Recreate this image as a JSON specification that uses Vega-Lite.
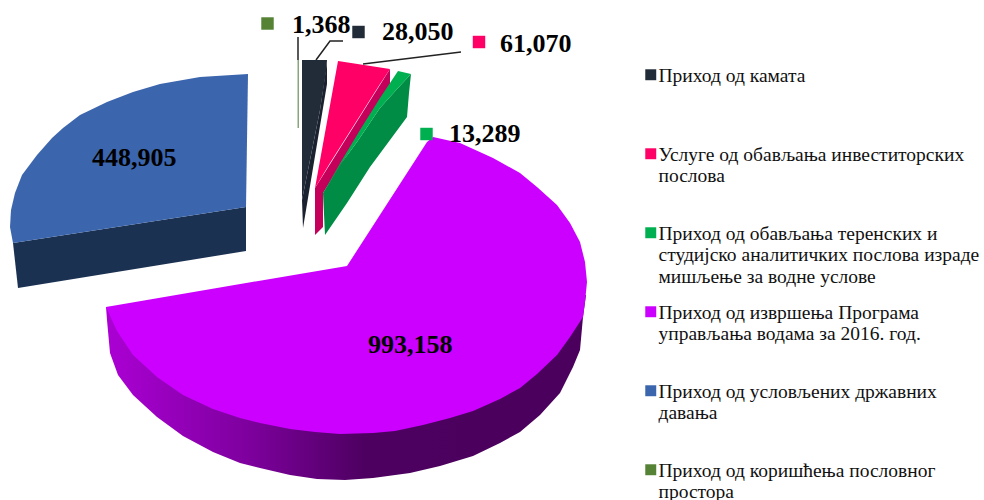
{"$schema":"https://vega.github.io/schema/vega-lite/v6.json","width":984,"height":500,"padding":0,"autosize":{"type":"none"},"background":"white","view":{"stroke":null},
"datasets":{"shapes":[
{"s":"side","p":"izv","i":1,"x":106,"y":307},{"s":"side","p":"izv","i":2,"x":107,"y":320},{"s":"side","p":"izv","i":3,"x":110,"y":353},{"s":"side","p":"izv","i":4,"x":118,"y":375},{"s":"side","p":"izv","i":5,"x":133,"y":395},{"s":"side","p":"izv","i":6,"x":157,"y":417},{"s":"side","p":"izv","i":7,"x":183,"y":436},{"s":"side","p":"izv","i":8,"x":213,"y":452},{"s":"side","p":"izv","i":9,"x":240,"y":463},{"s":"side","p":"izv","i":10,"x":260,"y":468},{"s":"side","p":"izv","i":11,"x":290,"y":475},{"s":"side","p":"izv","i":12,"x":317,"y":479},{"s":"side","p":"izv","i":13,"x":345,"y":480},{"s":"side","p":"izv","i":14,"x":373,"y":478},{"s":"side","p":"izv","i":15,"x":410,"y":473},{"s":"side","p":"izv","i":16,"x":440,"y":466},{"s":"side","p":"izv","i":17,"x":473,"y":456},{"s":"side","p":"izv","i":18,"x":500,"y":443},{"s":"side","p":"izv","i":19,"x":520,"y":432},{"s":"side","p":"izv","i":20,"x":540,"y":415},{"s":"side","p":"izv","i":21,"x":560,"y":393},{"s":"side","p":"izv","i":22,"x":573,"y":367},{"s":"side","p":"izv","i":23,"x":580,"y":350},{"s":"side","p":"izv","i":24,"x":583,"y":317},{"s":"side","p":"izv","i":25,"x":586,"y":295},{"s":"side","p":"izv","i":26,"x":340,"y":300},
{"s":"side","p":"usv","i":1,"x":246,"y":207},{"s":"side","p":"usv","i":2,"x":13,"y":243},{"s":"side","p":"usv","i":3,"x":18,"y":288},{"s":"side","p":"usv","i":4,"x":246,"y":251},
{"s":"side","p":"kam","i":1,"x":327,"y":62},{"s":"side","p":"kam","i":2,"x":327,"y":84},{"s":"side","p":"kam","i":3,"x":303,"y":228},{"s":"side","p":"kam","i":4,"x":302,"y":200},{"s":"side","p":"kam","i":5,"x":320,"y":110},
{"s":"side","p":"usl","i":1,"x":390,"y":69},{"s":"side","p":"usl","i":2,"x":390,"y":87},{"s":"side","p":"usl","i":3,"x":323,"y":193},{"s":"side","p":"usl","i":4,"x":323,"y":227},{"s":"side","p":"usl","i":5,"x":315,"y":235},{"s":"side","p":"usl","i":6,"x":315,"y":188},
{"s":"side","p":"ter","i":1,"x":411,"y":74},{"s":"side","p":"ter","i":2,"x":409,"y":93},{"s":"side","p":"ter","i":3,"x":407,"y":117},{"s":"side","p":"ter","i":4,"x":390,"y":140},{"s":"side","p":"ter","i":5,"x":370,"y":167},{"s":"side","p":"ter","i":6,"x":347,"y":203},{"s":"side","p":"ter","i":7,"x":325,"y":235},{"s":"side","p":"ter","i":8,"x":323,"y":193},{"s":"side","p":"ter","i":9,"x":340,"y":165},{"s":"side","p":"ter","i":10,"x":357,"y":142},{"s":"side","p":"ter","i":11,"x":380,"y":108},{"s":"side","p":"ter","i":12,"x":398,"y":88},
{"s":"top","p":"izv","i":1,"x":347,"y":266},{"s":"top","p":"izv","i":2,"x":427,"y":142},{"s":"top","p":"izv","i":3,"x":433,"y":137},{"s":"top","p":"izv","i":4,"x":460,"y":143},{"s":"top","p":"izv","i":5,"x":493,"y":158},{"s":"top","p":"izv","i":6,"x":520,"y":173},{"s":"top","p":"izv","i":7,"x":537,"y":187},{"s":"top","p":"izv","i":8,"x":557,"y":205},{"s":"top","p":"izv","i":9,"x":570,"y":223},{"s":"top","p":"izv","i":10,"x":580,"y":242},{"s":"top","p":"izv","i":11,"x":585,"y":262},{"s":"top","p":"izv","i":12,"x":587,"y":282},{"s":"top","p":"izv","i":13,"x":585,"y":302},{"s":"top","p":"izv","i":14,"x":583,"y":317},{"s":"top","p":"izv","i":15,"x":570,"y":337},{"s":"top","p":"izv","i":16,"x":557,"y":355},{"s":"top","p":"izv","i":17,"x":537,"y":374},{"s":"top","p":"izv","i":18,"x":520,"y":388},{"s":"top","p":"izv","i":19,"x":500,"y":399},{"s":"top","p":"izv","i":20,"x":473,"y":411},{"s":"top","p":"izv","i":21,"x":450,"y":418},{"s":"top","p":"izv","i":22,"x":423,"y":425},{"s":"top","p":"izv","i":23,"x":395,"y":431},{"s":"top","p":"izv","i":24,"x":373,"y":433},{"s":"top","p":"izv","i":25,"x":340,"y":434},{"s":"top","p":"izv","i":26,"x":315,"y":432},{"s":"top","p":"izv","i":27,"x":290,"y":429},{"s":"top","p":"izv","i":28,"x":260,"y":423},{"s":"top","p":"izv","i":29,"x":240,"y":418},{"s":"top","p":"izv","i":30,"x":213,"y":409},{"s":"top","p":"izv","i":31,"x":183,"y":395},{"s":"top","p":"izv","i":32,"x":157,"y":377},{"s":"top","p":"izv","i":33,"x":133,"y":355},{"s":"top","p":"izv","i":34,"x":117,"y":331},{"s":"top","p":"izv","i":35,"x":106,"y":307},{"s":"top","p":"izv","i":36,"x":252,"y":282},
{"s":"top","p":"usv","i":1,"x":248,"y":74},{"s":"top","p":"usv","i":2,"x":246,"y":207},{"s":"top","p":"usv","i":3,"x":13,"y":243},{"s":"top","p":"usv","i":4,"x":10,"y":227},{"s":"top","p":"usv","i":5,"x":11,"y":210},{"s":"top","p":"usv","i":6,"x":15,"y":193},{"s":"top","p":"usv","i":7,"x":22,"y":175},{"s":"top","p":"usv","i":8,"x":37,"y":155},{"s":"top","p":"usv","i":9,"x":52,"y":138},{"s":"top","p":"usv","i":10,"x":63,"y":128},{"s":"top","p":"usv","i":11,"x":80,"y":115},{"s":"top","p":"usv","i":12,"x":107,"y":102},{"s":"top","p":"usv","i":13,"x":133,"y":92},{"s":"top","p":"usv","i":14,"x":160,"y":84},{"s":"top","p":"usv","i":15,"x":200,"y":77},
{"s":"top","p":"kam","i":1,"x":302,"y":60},{"s":"top","p":"kam","i":2,"x":327,"y":60},{"s":"top","p":"kam","i":3,"x":326,"y":72},{"s":"top","p":"kam","i":4,"x":320,"y":110},{"s":"top","p":"kam","i":5,"x":302,"y":200},
{"s":"top","p":"usl","i":1,"x":338,"y":61},{"s":"top","p":"usl","i":2,"x":390,"y":69},{"s":"top","p":"usl","i":3,"x":380,"y":84},{"s":"top","p":"usl","i":4,"x":330,"y":163},{"s":"top","p":"usl","i":5,"x":315,"y":188},
{"s":"top","p":"ter","i":1,"x":398,"y":71},{"s":"top","p":"ter","i":2,"x":411,"y":74},{"s":"top","p":"ter","i":3,"x":398,"y":88},{"s":"top","p":"ter","i":4,"x":380,"y":108},{"s":"top","p":"ter","i":5,"x":357,"y":142},{"s":"top","p":"ter","i":6,"x":340,"y":165},{"s":"top","p":"ter","i":7,"x":323,"y":193},{"s":"top","p":"ter","i":8,"x":342,"y":160},{"s":"top","p":"ter","i":9,"x":360,"y":130},{"s":"top","p":"ter","i":10,"x":380,"y":98},
{"s":"top","p":"kor","i":1,"x":297.5,"y":60},{"s":"top","p":"kor","i":2,"x":299,"y":60},{"s":"top","p":"kor","i":3,"x":299,"y":128},{"s":"top","p":"kor","i":4,"x":297.5,"y":128}
],
"leaders":[
{"k":"a","i":1,"x":298,"y":37},{"k":"a","i":2,"x":298,"y":60},
{"k":"b","i":1,"x":316,"y":60},{"k":"b","i":2,"x":330,"y":41},{"k":"b","i":3,"x":343,"y":41},
{"k":"c","i":1,"x":363,"y":64},{"k":"c","i":2,"x":461,"y":52}
],
"labels":[
{"series":"Приход од камата","value":28050,"tx":382,"ty":40,"sx":358.5,"sy":32},
{"series":"Услуге од обављања инвеститорских послова","value":61070,"tx":500,"ty":52,"sx":479,"sy":42},
{"series":"Приход од обављања теренских и студијско аналитичких послова израде мишљење за водне услове","value":13289,"tx":449,"ty":142,"sx":426.5,"sy":134},
{"series":"Приход од извршења Програма управљања водама за 2016. год.","value":993158,"tx":368,"ty":353},
{"series":"Приход од условљених државних давања","value":448905,"tx":92,"ty":166},
{"series":"Приход од коришћења пословног простора","value":1368,"tx":292,"ty":33,"sx":267.5,"sy":23.5}
]},
"resolve":{"scale":{"fill":"independent"}},
"layer":[
{"data":{"name":"shapes"},"transform":[{"filter":"datum.s==='side' && datum.p==='izv'"}],
 "mark":{"type":"line","stroke":null,"fill":{"gradient":"linear","x1":0,"y1":0,"x2":1,"y2":0,"stops":[{"offset":0,"color":"#ab00d4"},{"offset":0.3,"color":"#7d009d"},{"offset":0.54,"color":"#4d0060"},{"offset":1,"color":"#4a005c"}]}},
 "encoding":{"x":{"field":"x","type":"quantitative","scale":{"domain":[0,984],"nice":false,"zero":false},"axis":null},"y":{"field":"y","type":"quantitative","scale":{"domain":[500,0],"nice":false,"zero":false},"axis":null},"order":{"field":"i","type":"quantitative"}}},
{"data":{"name":"shapes"},"transform":[{"filter":"datum.s==='side' && datum.p!=='izv'"}],
 "mark":{"type":"line","stroke":null},
 "encoding":{"x":{"field":"x","type":"quantitative","axis":null},"y":{"field":"y","type":"quantitative","axis":null},"order":{"field":"i","type":"quantitative"},"detail":{"field":"p"},
 "fill":{"field":"p","type":"nominal","legend":null,"scale":{"domain":["kam","usl","ter","usv"],"range":["#1a2230","#c4005a","#008c44","#1b3152"]}}}},
{"data":{"name":"shapes"},"transform":[{"filter":"datum.s==='top'"}],
 "mark":{"type":"line","stroke":null},
 "encoding":{"x":{"field":"x","type":"quantitative","axis":null},"y":{"field":"y","type":"quantitative","axis":null},"order":{"field":"i","type":"quantitative"},"detail":{"field":"p"},
 "fill":{"field":"p","type":"nominal","legend":null,"scale":{"domain":["kam","usl","ter","izv","usv","kor"],"range":["#222b38","#ff0066","#00b050","#cc00ff","#3b65ad","#8aa57a"]}}}},
{"data":{"name":"leaders"},"mark":{"type":"line","color":"#222","strokeWidth":1.5},
 "encoding":{"x":{"field":"x","type":"quantitative","axis":null},"y":{"field":"y","type":"quantitative","axis":null},"order":{"field":"i","type":"quantitative"},"detail":{"field":"k"}}},
{"data":{"name":"labels"},"transform":[{"filter":"isValid(datum.sx)"}],"mark":{"type":"point","shape":"square","filled":true,"size":155,"opacity":1},
 "encoding":{"x":{"field":"sx","type":"quantitative","axis":null},"y":{"field":"sy","type":"quantitative","axis":null},
 "fill":{"field":"series","type":"nominal","scale":{"domain":["Приход од камата","Услуге од обављања инвеститорских послова","Приход од обављања теренских и студијско аналитичких послова израде мишљење за водне услове","Приход од извршења Програма управљања водама за 2016. год.","Приход од условљених државних давања","Приход од коришћења пословног простора"],"range":["#222b38","#ff0066","#00b050","#cc00ff","#3b65ad","#558235"]},
 "legend":{"orient":"none","legendX":641,"legendY":65,"title":null,"symbolType":"square","symbolSize":120,"symbolStrokeWidth":0,"columns":1,"gridAlign":"all","rowPadding":15,"labelFont":"Liberation Serif","labelFontSize":19.5,"labelColor":"#111","labelLimit":340,"labelOffset":-2,"labelBaseline":"top","labelLineHeight":23,"symbolOffset":0,
 "encoding":{"labels":{"dy":{"value":-8}}},
 "labelExpr":"datum.label==='Приход од камата'?['Приход од камата']:datum.label==='Услуге од обављања инвеститорских послова'?['Услуге од обављања инвеститорских','послова']:indexof(datum.label,'теренских')>=0?['Приход од обављања теренских и','студијско аналитичких послова израде','мишљење за водне услове']:indexof(datum.label,'извршења')>=0?['Приход од извршења Програма','управљања водама за 2016. год.']:indexof(datum.label,'условљених')>=0?['Приход од условљених државних','давања']:['Приход од коришћења пословног','простора']"}}}},
{"data":{"name":"labels"},"mark":{"type":"text","font":"Liberation Serif","fontWeight":"bold","fontSize":26,"align":"left","baseline":"alphabetic","color":"#000"},
 "encoding":{"x":{"field":"tx","type":"quantitative","axis":null},"y":{"field":"ty","type":"quantitative","axis":null},"text":{"field":"value","type":"quantitative","format":","}}}
]}
